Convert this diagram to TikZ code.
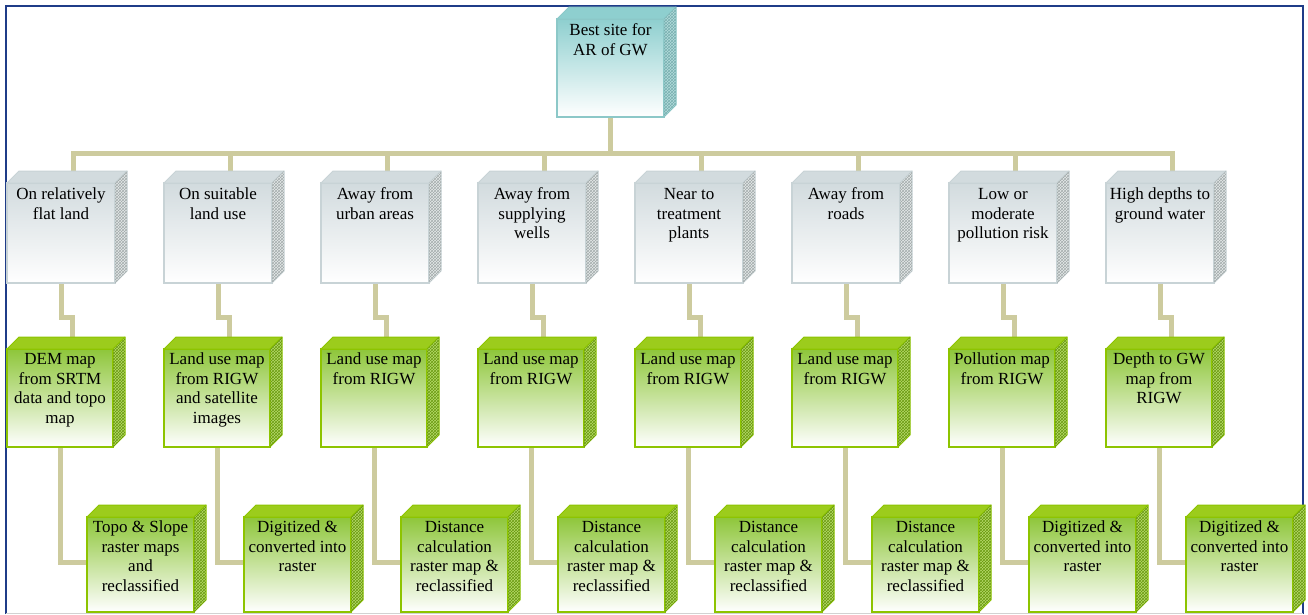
\documentclass[tikz,border=0pt]{standalone}
\usepackage{fontspec}
\setmainfont{Liberation Serif}
\usetikzlibrary{patterns,calc}
\pgfdeclarelayer{background}
\pgfsetlayers{background,main}
\definecolor{framec}{HTML}{1F3C88}
\definecolor{connc}{HTML}{CDCB9E}
\definecolor{tealtop}{HTML}{8ECFCF}
\definecolor{tealmid}{HTML}{C8E8E8}
\definecolor{tealbd}{HTML}{8CC8C8}
\definecolor{tealside}{HTML}{B4DCDC}
\definecolor{tealpat}{HTML}{78B0B0}
\definecolor{graytop}{HTML}{D2DBDE}
\definecolor{graymid}{HTML}{E8EDEE}
\definecolor{graybd}{HTML}{C8D3D6}
\definecolor{grayside}{HTML}{E6EAEA}
\definecolor{graypat}{HTML}{A4ACAC}
\definecolor{greentop}{HTML}{8EC63A}
\definecolor{greenmid}{HTML}{D4EBAE}
\definecolor{greenbd}{HTML}{8DC400}
\definecolor{greenface}{HTML}{9CCC1C}
\definecolor{greenside}{HTML}{B6DA6A}
\definecolor{greenpat}{HTML}{6A9A10}
\tikzset{
  front/.style={draw=#1bd, line width=1.3pt, inner sep=0pt, outer sep=0pt, anchor=north west,
    top color=#1top, middle color=#1mid, bottom color=white},
  fteal/.style={front=teal, minimum width=107pt, minimum height=98pt},
  fgray/.style={front=gray, minimum width=108pt, minimum height=100pt},
  fgreenm/.style={front=green, minimum width=106pt, minimum height=98pt},
  fgreenb/.style={front=green, minimum width=107pt, minimum height=95pt},
  txt/.style={align=center, anchor=north, inner sep=0pt, font=\fontsize{17}{19.5}\selectfont},
  conn/.style={draw=connc, line width=5pt},
}
\newcommand\cubefaces[4]{% node, border, top fill, side fill
  \filldraw[fill=#3, draw=#2, line width=1pt, line join=round]
    (#1.north west) -- ++(12,-12) -- ($(#1.north east)+(12,-12)$) -- (#1.north east) -- cycle;
  \filldraw[fill=#4, draw=#2, line width=1pt, line join=round]
    (#1.north east) -- ++(12,-12) -- ($(#1.south east)+(12,-12)$) -- (#1.south east) -- cycle;
}
\newcommand\sidepattern[2]{%
  \path[pattern=crosshatch, pattern color=#2]
    (#1.north east) -- ++(12,-12) -- ($(#1.south east)+(12,-12)$) -- (#1.south east) -- cycle;
}
\begin{document}
\begin{tikzpicture}[x=1pt,y=-1pt]
\useasboundingbox (0,0) rectangle (1308,614);
% frame
\draw[framec, line width=2pt] (6,614) -- (6,6) -- (1303,6) -- (1303,614);
\draw[gray!35, line width=1pt] (6,613) -- (1303,613);

% top box
\node[fteal] (top) at (557,19) {};
\cubefaces{top}{tealbd}{tealtop}{tealside}
\sidepattern{top}{tealpat}
\node[txt] (ttop) at ($(top.north)+(0,3)$) {\strut Best site for\\AR of GW};

% gray row
\foreach \i/\t in {1/{On relatively\\flat land},2/{On suitable\\land use},3/{Away from\\urban areas},4/{Away from\\supplying\\wells},5/{Near to\\treatment\\plants},6/{Away from\\roads},7/{Low or\\moderate\\pollution risk},8/{High depths to\\ground water}}{
  \node[fgray] (g\i) at ({7+157*(\i-1)},183) {};
  \cubefaces{g\i}{graybd}{graytop}{grayside}
  \sidepattern{g\i}{graypat}
  \node[txt] (tg\i) at ($(g\i.north)+(0,3)$) {\strut \t};
}
% middle green row
\foreach \i/\t in {1/{DEM map\\from SRTM\\data and topo\\map},2/{Land use map\\from RIGW\\and satellite\\images},3/{Land use map\\from RIGW},4/{Land use map\\from RIGW},5/{Land use map\\from RIGW},6/{Land use map\\from RIGW},7/{Pollution map\\from RIGW},8/{Depth to GW\\map from\\RIGW}}{
  \node[fgreenm] (m\i) at ({7+157*(\i-1)},349) {};
  \cubefaces{m\i}{greenbd}{greenface}{greenside}
  \sidepattern{m\i}{greenpat}
  \node[txt] (tm\i) at ($(m\i.north)+(0,2)$) {\strut \t};
}
% bottom green row
\foreach \i/\t in {1/{Topo \& Slope\\raster maps\\and\\reclassified},2/{Digitized \&\\converted into\\raster},3/{Distance\\calculation\\raster map \&\\reclassified},4/{Distance\\calculation\\raster map \&\\reclassified},5/{Distance\\calculation\\raster map \&\\reclassified},6/{Distance\\calculation\\raster map \&\\reclassified},7/{Digitized \&\\converted into\\raster},8/{Digitized \&\\converted into\\raster}}{
  \node[fgreenb] (b\i) at ({87+157*(\i-1)},517) {};
  \cubefaces{b\i}{greenbd}{greenface}{greenside}
  \sidepattern{b\i}{greenpat}
  \node[txt] (tb\i) at ($(b\i.north)+(0,2)$) {\strut \t};
}

% connectors
\begin{pgfonlayer}{background}
  \fill[white] (0,0) rectangle (1308,614);
  \coordinate (busL) at ($(g1.north)+(12,-30)$);
  \coordinate (busR) at ($(g8.north)+(12,-30)$);
  \draw[conn] (top.south) -- (top.south |- busL);
  \draw[conn, line cap=rect] (busL) -- (busR);
  \foreach \i in {1,...,8}{
    \draw[conn] ($(g\i.north)+(12,0)$) -- ($(g\i.north)+(12,-30)$);
    \draw[conn] (g\i.south) -- ++(0,34) -| ($(m\i.north)+(12,0)$);
    \draw[conn] (m\i.south) |- ($(b\i.west)+(0,-2)$);
  }
\end{pgfonlayer}
\end{tikzpicture}
\end{document}
